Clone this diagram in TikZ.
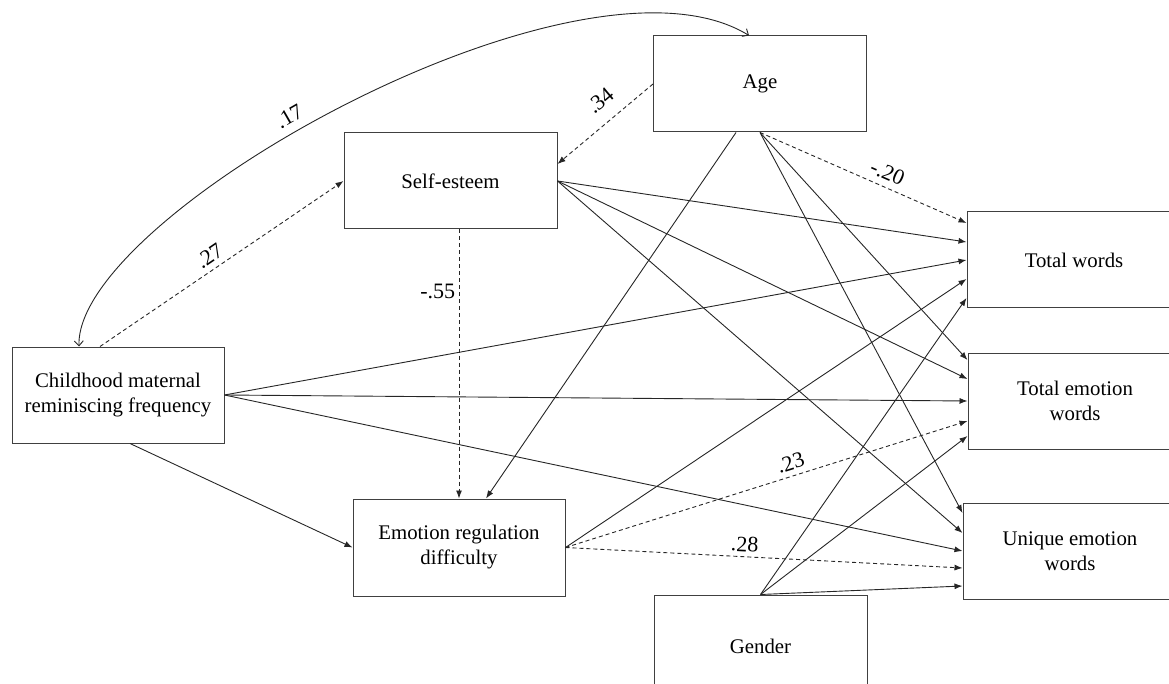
\documentclass[tikz,border=0pt]{standalone}
\usepackage{fontspec}
\setmainfont{Liberation Serif}
\usetikzlibrary{arrows.meta}

\begin{document}
\begin{tikzpicture}[x=1pt,y=-1pt,
    box/.style={draw=black!75,line width=1pt,minimum width=213pt,minimum height=96pt,align=center,font=\fontsize{20.8}{25}\selectfont},
    arr/.style={line width=0.9pt,draw=black!85,-{Latex[length=8pt,width=6pt]}},
    darr/.style={arr,dash pattern=on 4pt off 3pt},
    coef/.style={font=\fontsize{22}{26}\selectfont,sloped,above}]
    \useasboundingbox (0,0) rectangle (1169,684);
    \clip (0,0) rectangle (1169,684);
    % variables
    \node[box] (age) at (760,84) {Age};
    \node[box] (se) at (450.5,181) {Self-esteem};
    \node[box,minimum width=212pt] (cmr) at (118,395) {Childhood maternal\\reminiscing frequency};
    \node[box,minimum width=212pt,minimum height=97pt] (erd) at (459,547.5) {Emotion regulation\\difficulty};
    \node[box,minimum height=102pt] (gender) at (760.5,646) {Gender};
    \node[box,minimum width=214pt] (tw) at (1074,260) {Total words};
    \node[box,minimum width=214pt] (tew) at (1075,401) {Total emotion\\words};
    \node[box,minimum width=214pt] (uew) at (1070,551) {Unique emotion\\words};
    % covariance
    \draw[line width=0.9pt,draw=black!85,{Straight Barb[length=5pt,width=9pt]}-{Straight Barb[length=5pt,width=9pt]}]
        ([xshift=-39pt]cmr.north) .. controls (75,215) and (580,-68) .. ([xshift=-11pt]age.north)
        node[coef,pos=.44,above=5pt] {.17};
    \draw[darr] ([xshift=-18pt]cmr.north) -- (se.west) node[coef,pos=.48,above=2pt] {.27};
    \draw[darr] (age.west) -- ([yshift=17pt]se.east) node[coef,pos=.41,above=10pt] {.34};
    \draw[darr] (se.south -| erd.north) -- (erd.north)
        node[pos=.23,left,font=\fontsize{22}{26}\selectfont] {-.55};
    \draw[arr] ([xshift=-24pt]age.south) -- ([xshift=27pt]erd.north);
    \draw[arr] ([xshift=12pt]cmr.south) -- (erd.west);
    % age
    \draw[darr] (age.south) -- ([yshift=37pt]tw.west) node[coef,pos=.59,above=3pt] {-.20};
    \draw[arr] (age.south) -- ([yshift=41pt]tew.west);
    \draw[arr] (age.south) -- ([yshift=38pt]uew.west);
    % self-esteem
    \draw[arr] (se.east) -- ([yshift=18pt]tw.west);
    \draw[arr] (se.east) -- ([yshift=22pt]tew.west);
    \draw[arr] (se.east) -- ([yshift=18pt]uew.west);
    % childhood reminiscing
    \draw[arr] (cmr.east) -- (tw.west);
    \draw[arr] (cmr.east) -- (tew.west);
    \draw[arr] (cmr.east) -- (uew.west);
    % emotion regulation
    \draw[arr] (erd.east) -- ([yshift=-19pt]tw.west);
    \draw[darr] (erd.east) -- ([yshift=-20pt]tew.west) node[coef,pos=.57,above=2pt] {.23};
    \draw[darr] (erd.east) -- ([yshift=-17pt]uew.west) node[coef,pos=.45,above=1pt] {.28};
    % gender
    \draw[arr] (gender.north) -- ([yshift=-38pt]tw.west);
    \draw[arr] (gender.north) -- ([yshift=-35pt]tew.west);
    \draw[arr] (gender.north) -- ([yshift=-35pt]uew.west);
\end{tikzpicture}
\end{document}
